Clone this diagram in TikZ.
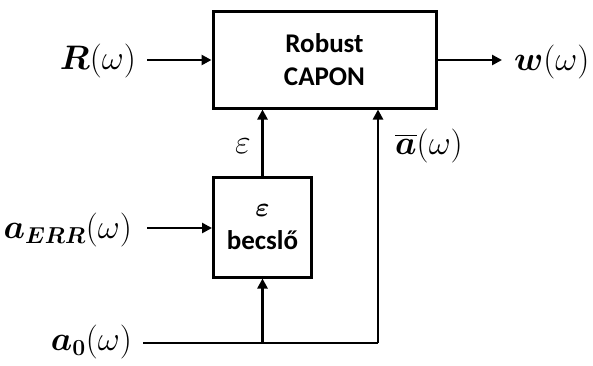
\RequirePackage{fix-cm}
\documentclass[tikz,border=0pt]{standalone}
\usepackage{amsmath}
\usepackage{bm}
\usepackage{fontspec}
\newfontfamily\boxfont{Carlito}
\usetikzlibrary{arrows.meta}
\DeclareMathSizes{34}{34}{23}{17}
\tikzset{
  blockbox/.style={draw, line width=3pt, align=center, inner sep=0pt,
    font=\boxfont\bfseries\fontsize{27}{33}\selectfont},
  arr/.style={line width=2.5pt, -{Triangle[length=10pt,width=10pt]}},
  plain/.style={line width=2.5pt},
  lbl/.style={inner sep=0pt, font=\fontsize{34}{38}\selectfont}
}
\begin{document}
\begin{tikzpicture}[x=1pt,y=-1pt]
\useasboundingbox (0,0) rectangle (593,365);
% blocks
\node[blockbox, minimum width=223pt, minimum height=97pt] (capon) at (324.5,59.5) {Robust\\CAPON};
\node[blockbox, minimum width=98pt, minimum height=100pt] (est) at (262.5,227) {$\bm{\varepsilon}$\\becslő};
% free ends
\coordinate (rin) at (147,60);
\coordinate (wout) at (502,60);
\coordinate (errin) at (147,228);
\coordinate (a0in) at (143,343);
\coordinate (corner) at (378,343);
\coordinate (branch) at (est.south |- a0in);
% labels
\node[lbl, anchor=east] (Rlbl) at (136,61) {$\bm{R}(\omega)$};
\node[lbl, anchor=west] (wlbl) at (514,62) {$\bm{w}(\omega)$};
\node[lbl, anchor=east] (errlbl) at (132,230) {$\bm{a}_{\bm{ERR}}(\omega)$};
\node[lbl, anchor=east] (a0lbl) at (132,342) {$\bm{a}_{\bm{0}}(\omega)$};
\node[lbl] (epslbl) at (243,146) {$\varepsilon$};
\node[lbl, anchor=west] (abarlbl) at (395,146) {$\overline{\bm{a}}(\omega)$};
% connectors
\draw[arr] (rin) -- (rin -| capon.west);
\draw[arr] (capon.east |- wout) -- (wout);
\draw[arr] (errin) -- (errin -| est.west);
\draw[arr] (est.north) -- (est.north |- capon.south);
\draw[plain] (a0in) -- (corner);
\draw[arr] (corner) -- (corner |- capon.south);
\draw[arr] (branch) -- (est.south);
\end{tikzpicture}
\end{document}
